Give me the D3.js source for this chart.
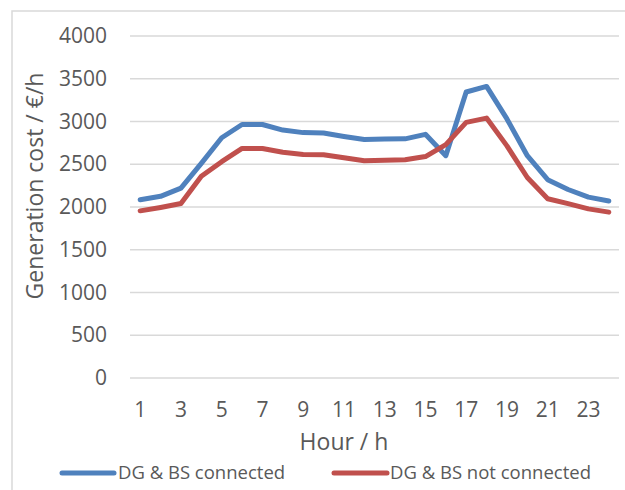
<!DOCTYPE html>
<html>
<head>
<meta charset="utf-8">
<script src="https://cdn.jsdelivr.net/npm/d3@7"></script>
<style>
  html, body { margin: 0; padding: 0; background: #ffffff; }
  svg { display: block; }
  text { font-family: "Open Sans", "Noto Sans", sans-serif; fill: #595959; }
</style>
</head>
<body>
<svg id="chart" width="625" height="490"></svg>
<script>
// Hourly generation cost, two network configurations
const hours = d3.range(1, 25);
const hourTicks = [1, 3, 5, 7, 9, 11, 13, 15, 17, 19, 21, 23];
const costTicks = [0, 500, 1000, 1500, 2000, 2500, 3000, 3500, 4000];
const seriesNames = ["DG & BS connected", "DG & BS not connected"];
const seriesColors = ["#4f81bd", "#c0504d"];
const connected = [2085, 2125, 2220, 2510, 2810, 2965, 2965, 2900, 2870, 2865, 2825, 2790,
                   2795, 2797, 2850, 2600, 3345, 3410, 3030, 2600, 2320, 2205, 2115, 2070];
const notConnected = [1955, 1995, 2040, 2360, 2530, 2685, 2685, 2640, 2615, 2612, 2575, 2540,
                      2548, 2552, 2590, 2730, 2990, 3040, 2715, 2345, 2097, 2040, 1978, 1940];
const seriesValues = [connected, notConnected];

const svg = d3.select("#chart");

// chart area border (left and top edges visible)
svg.append("rect")
  .attr("x", 12).attr("y", 11)
  .attr("width", 640).attr("height", 500)
  .attr("fill", "none")
  .attr("stroke", "#d9d9d9")
  .attr("stroke-width", 1.5);

const plot = { left: 130, right: 619, top: 36, bottom: 378 };

const x = d3.scaleBand().domain(hours).range([plot.left, plot.right]);
const xc = h => x(h) + x.bandwidth() / 2;
const y = d3.scaleLinear().domain([0, 4000]).range([plot.bottom, plot.top]);

// horizontal gridlines
svg.append("g")
  .selectAll("line")
  .data(costTicks)
  .join("line")
  .attr("x1", plot.left).attr("x2", plot.right)
  .attr("y1", d => y(d)).attr("y2", d => y(d))
  .attr("stroke", "#d9d9d9")
  .attr("stroke-width", 1.5);

// y axis labels
const yAxis = svg.append("g")
  .attr("transform", `translate(${plot.left},0)`)
  .call(d3.axisLeft(y).tickValues(costTicks).tickFormat(d3.format("d")).tickSize(0).tickPadding(23));
yAxis.select(".domain").remove();
yAxis.selectAll("text")
  .attr("font-size", 21)
  .attr("font-family", "Open Sans")
  .attr("fill", "#595959");

// x axis labels
const xAxis = svg.append("g")
  .attr("transform", `translate(0,${plot.bottom})`)
  .call(d3.axisBottom(x).tickValues(hourTicks).tickSize(0));
xAxis.select(".domain").remove();
xAxis.selectAll("text")
  .attr("y", 32)
  .attr("dy", "0.35em")
  .attr("font-size", 21)
  .attr("font-family", "Open Sans")
  .attr("fill", "#595959");

// axis titles
svg.append("text")
  .attr("transform", "translate(35,186) rotate(-90)")
  .attr("text-anchor", "middle")
  .attr("dy", "0.35em")
  .attr("font-size", 23)
  .text("Generation cost / €/h");

svg.append("text")
  .attr("x", 344).attr("y", 442)
  .attr("text-anchor", "middle")
  .attr("dy", "0.35em")
  .attr("font-size", 23)
  .text("Hour / h");

// series lines
const line = d3.line()
  .x((d, i) => xc(hours[i]))
  .y(d => y(d));

svg.append("g")
  .selectAll("path")
  .data(seriesValues)
  .join("path")
  .attr("d", d => line(d))
  .attr("fill", "none")
  .attr("stroke", (d, i) => seriesColors[i])
  .attr("stroke-width", 5)
  .attr("stroke-linejoin", "round")
  .attr("stroke-linecap", "round");

// legend
const legendItems = [
  { x1: 62, x2: 114, tx: 118 },
  { x1: 334, x2: 387, tx: 390 }
];
const legend = svg.append("g");
legendItems.forEach((it, i) => {
  legend.append("line")
    .attr("x1", it.x1).attr("x2", it.x2)
    .attr("y1", 473).attr("y2", 473)
    .attr("stroke", seriesColors[i])
    .attr("stroke-width", 5)
    .attr("stroke-linecap", "round");
  legend.append("text")
    .attr("x", it.tx).attr("y", 473)
    .attr("dy", "0.35em")
    .attr("font-size", 18.5)
    .text(seriesNames[i]);
});
</script>
</body>
</html>
